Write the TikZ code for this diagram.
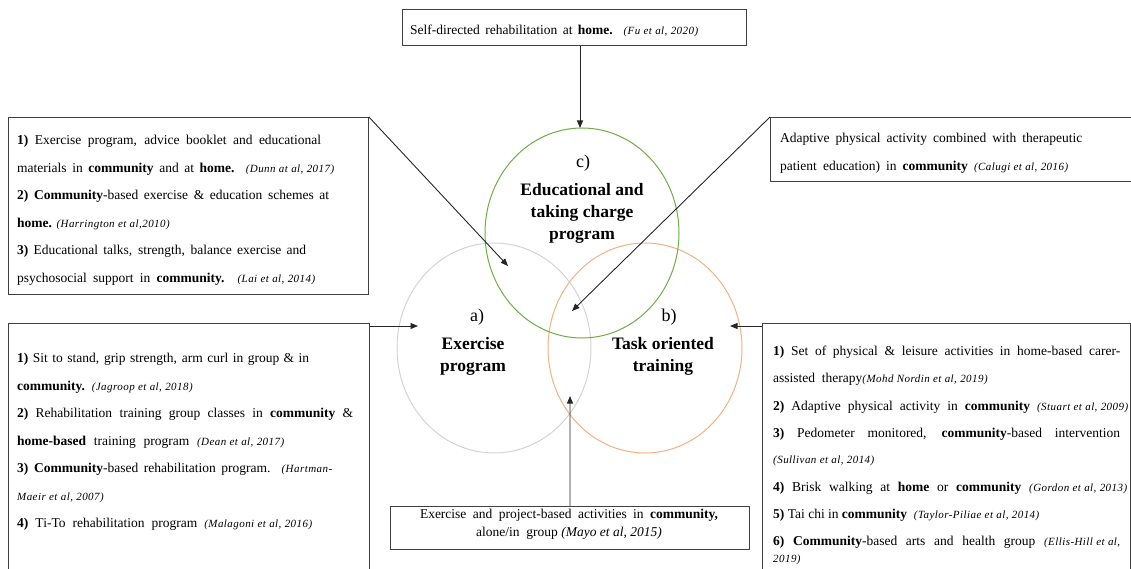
\documentclass[tikz,border=0pt]{standalone}
\usepackage{fontspec}
\setmainfont{Liberation Serif}
\usetikzlibrary{arrows.meta,shapes.geometric}
\definecolor{boxgray}{HTML}{404040}
\definecolor{ringgray}{HTML}{D4D4D4}
\definecolor{ringgreen}{HTML}{70AD47}
\definecolor{ringorange}{HTML}{F4B183}
\newcommand{\cit}[1]{{\fontsize{11}{12}\selectfont\itshape\addfontfeatures{LetterSpace=4}\spaceskip=0.3em\relax #1}}
\newcommand{\jl}[2]{\makebox[#1pt][s]{#2}}
\begin{document}
\begin{tikzpicture}[x=1pt,y=-1pt,
  box/.style={draw=boxgray, line width=0.9pt, anchor=north west, inner sep=0pt},
  txt/.style={font=\fontsize{13.5}{27.5}\selectfont, align=left, inner sep=0pt, anchor=north west},
  arr/.style={-{Triangle[length=7.5pt,width=6pt]}, line width=0.9pt, draw=black!85},
  ring/.style={ellipse, draw, line width=1pt, minimum width=194pt, minimum height=210pt, inner sep=0pt},
  lab/.style={font=\fontsize{17.5}{22}\selectfont\bfseries, align=center},
  letter/.style={font=\fontsize{18}{22}\selectfont}]
\useasboundingbox (0,0) rectangle (1131,569);
\clip (0,0) rectangle (1131,569);
% circles
\node[ring, draw=ringgray] (ca) at (494,348) {};
\node[ring, draw=ringorange] (cb) at (645,348) {};
\node[ring, draw=ringgreen] (cc) at (582,233) {};
% circle labels
\node[letter] (la) at (477,317) {a)};
\node[lab] (na) at (473,356) {Exercise\\program};
\node[letter] (lb) at (669,317) {b)};
\node[lab] (nb) at (663,356) {Task oriented\\training};
\node[letter] (lc) at (583,163) {c)};
\node[lab] (nc) at (582,213) {Educational and\\taking charge\\program};
% boxes
\node[box, minimum width=344pt, minimum height=36pt] (topb) at (402,9) {};
\node[box, minimum width=360pt, minimum height=177pt] (ltb) at (8,117) {};
\node[box, minimum width=380pt, minimum height=64pt] (rtb) at (770,117) {};
\node[box, minimum width=361pt, minimum height=260pt] (lbb) at (8,323) {};
\node[box, minimum width=368pt, minimum height=260pt] (rbb) at (762,323) {};
\node[box, minimum width=359pt, minimum height=43pt] (botb) at (390,506) {};
% texts
\node[txt] (toptxt) at (410,25) {\jl{288}{Self-directed rehabilitation at \textbf{home.} \cit{(Fu et al, 2020)}}};
\node[txt] (lttxt) at (17,135) {\jl{304}{\textbf{1)} Exercise program, advice booklet and educational}\\
\jl{317}{materials in \textbf{community} and at \textbf{home.} \cit{(Dunn at al, 2017)}}\\
\jl{312}{\textbf{2) Community}-based exercise \& education schemes at}\\
\textbf{home.} \cit{(Harrington et al,2010)}\\
\jl{289}{\textbf{3)} Educational talks, strength, balance exercise and}\\
\jl{298}{psychosocial support in \textbf{community.} \cit{(Lai et al, 2014)}}};
\node[txt] (rttxt) at (780,133) {\jl{302}{Adaptive physical activity combined with therapeutic}\\
\jl{288}{patient education) in \textbf{community} \cit{(Calugi et al, 2016)}}};
\node[txt] (lbtxt) at (17,353) {\jl{292}{\textbf{1)} Sit to stand, grip strength, arm curl in group \& in}\\
\textbf{community.}\ \ \cit{(Jagroop et al, 2018)}\\
\jl{336}{\textbf{2)} Rehabilitation training group classes in \textbf{community} \&}\\
\jl{267}{\textbf{home-based} training program \cit{(Dean et al, 2017)}}\\
\jl{315}{\textbf{3) Community}-based rehabilitation program. \cit{(Hartman-}}\\
\cit{Maeir et al, 2007)}\\
\jl{295}{\textbf{4)} Ti-To rehabilitation program \cit{(Malagoni et al, 2016)}}};
\node[txt, font=\fontsize{13.5}{27}\selectfont] (rbtxt) at (773,346) {\jl{347}{\textbf{1)} Set of physical \& leisure activities in home-based carer-}\\
assisted\ \ therapy\cit{(Mohd Nordin et al, 2019)}\\[1pt]
\jl{355}{\textbf{2)} Adaptive physical activity in \textbf{community} \cit{(Stuart et al, 2009)}}\\
\jl{347}{\textbf{3)} Pedometer monitored, \textbf{community}-based intervention}\\[-1pt]
\cit{(Sullivan et al, 2014)}\\[1pt]
\jl{354}{\textbf{4)} Brisk walking at \textbf{home} or \textbf{community} \cit{(Gordon et al, 2013)}}\\
\textbf{5)} Tai chi in \textbf{community}\ \ \cit{(Taylor-Piliae et al, 2014)}\\
\jl{347}{\textbf{6) Community}-based arts and health group \cit{(Ellis-Hill et al,}}\\[-10pt]
\cit{2019)}};
\node[font=\fontsize{13.5}{18}\selectfont, align=center, inner sep=0pt] (bottxt) at (569,524.5) {\jl{298}{Exercise and project-based activities in \textbf{community,}}\\
alone/in\ \ group \textit{(Mayo et al, 2015)}};
% arrow end points
\coordinate (ttip) at (580,128);
\coordinate (lttip) at (508,266);
\coordinate (rttip) at (572,311);
\coordinate (latip) at (418,326);
\coordinate (ratip) at (730,326);
\coordinate (btip) at (570,396);
% arrows
\draw[arr] (ttip |- topb.south) -- (ttip);
\draw[arr] (ltb.north east) -- (lttip);
\draw[arr] (rtb.north west) -- (rttip);
\draw[arr] ([yshift=-3pt]lbb.north east) -- (latip);
\draw[arr] ([yshift=-3pt]rbb.north west) -- (ratip);
\draw[arr] (botb.north) -- (btip);
\end{tikzpicture}
\end{document}
